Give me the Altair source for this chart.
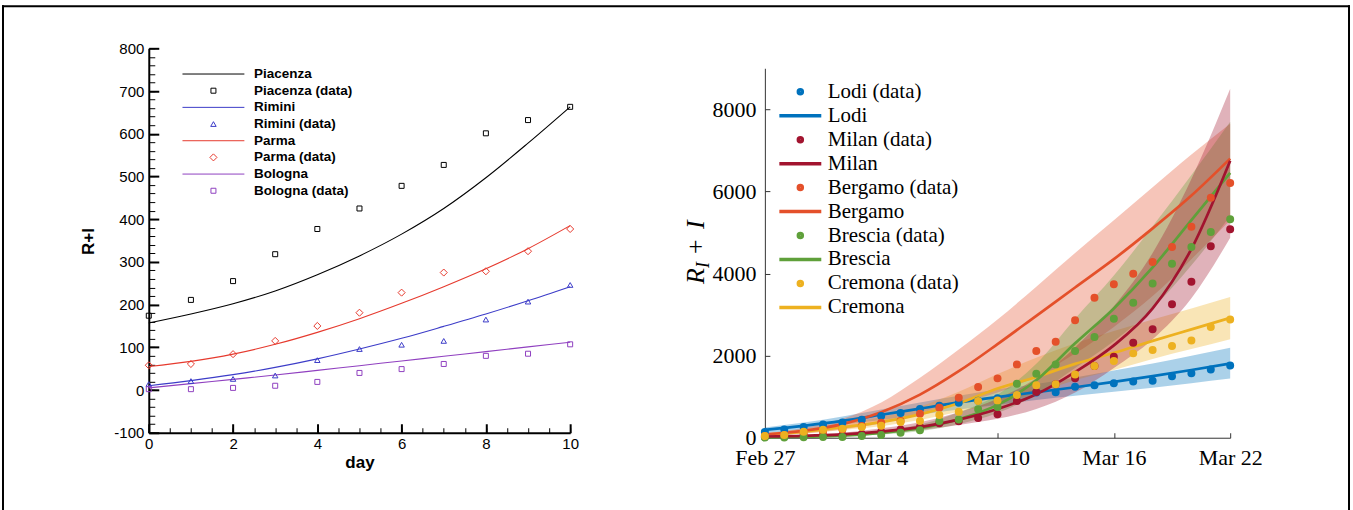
import altair as alt
import pandas as pd

SANS = "Liberation Sans, Arial, Helvetica, sans-serif"
SERIF = "Liberation Serif, Times New Roman, serif"

# ---------------- Left panel data ----------------
days = [0, 1, 2, 3, 4, 5, 6, 7, 8, 9, 10]
piacenza_data = [174, 211, 255, 318, 377, 425, 478, 527, 601, 632, 663]
piacenza_fit = [157, 178, 202, 232, 270, 314, 365, 425, 497, 578, 663]
rimini_data = [14, 21, 26, 34, 70, 96, 106, 115, 165, 207, 246]
rimini_fit = [10, 22, 36, 53, 73, 96, 121, 149, 178, 209, 242]
parma_data = [58, 61, 84, 115, 150, 181, 228, 275, 278, 325, 377]
parma_fit = [55, 67, 84, 107, 135, 167, 203, 242, 284, 331, 385]
bologna_data = [2, 2, 5, 10, 19, 40, 49, 61, 80, 85, 107]
bologna_fit = [5, 15, 25, 35, 46, 57, 68, 79, 90, 101, 112]

left_names = ["Piacenza", "Piacenza (data)", "Rimini", "Rimini (data)",
              "Parma", "Parma (data)", "Bologna", "Bologna (data)"]
left_colors = ["#000000", "#000000", "#3c3cc8", "#3c3cc8",
               "#e63a2e", "#e63a2e", "#9040c0", "#9040c0"]
LINE_L = "M-12.4,0H12.4"
left_shapes = [LINE_L, "square", LINE_L, "triangle-up", LINE_L, "diamond", LINE_L, "square"]
left_sizes = [25, 25, 25, 30, 25, 50, 25, 25]
left_y_ticks = [-100, 0, 100, 200, 300, 400, 500, 600, 700, 800]
left_x_ticks = [0, 2, 4, 6, 8, 10]

# ---------------- Right panel data ----------------
r_days = list(range(25))
date_tick_values = [0, 6, 12, 18, 24]
date_tick_labels = ["Feb 27", "Mar 4", "Mar 10", "Mar 16", "Mar 22"]
r_y_ticks = [0, 2000, 4000, 6000, 8000]

lodi_data = [140, 200, 260, 320, 370, 440, 530, 600, 700, 780, 850, 900, 960,
             1040, 1100, 1110, 1240, 1280, 1330, 1370, 1390, 1500, 1570, 1660, 1760]
milan_data = [15, 30, 45, 55, 60, 90, 145, 200, 270, 350, 400, 480, 570,
              895, 1114, 1300, 1450, 1747, 1975, 2316, 2641, 3249, 3802, 4662, 5076]
bergamo_data = [41, 66, 98, 147, 204, 285, 366, 407, 585, 731, 975, 1235, 1446,
                1787, 2112, 2339, 2859, 3411, 3736, 3996, 4280, 4645, 5141, 5847, 6204]
brescia_data = [5, 5, 10, 15, 20, 41, 66, 122, 180, 407, 447, 691, 748,
                1316, 1559, 1787, 2112, 2453, 2900, 3289, 3760, 4240, 4646, 5011, 5320]
cremona_data = [41, 66, 147, 196, 220, 260, 293, 382, 407, 553, 634, 894, 910,
                1040, 1276, 1300, 1543, 1746, 1868, 2055, 2136, 2233, 2371, 2696, 2883]

fit_days = [0, 2, 4, 6, 8, 10, 12, 14, 16, 18, 20, 22, 24]
lodi_fit = [190, 290, 410, 560, 710, 860, 990, 1110, 1230, 1360, 1500, 1650, 1810]
lodi_lo = [110, 200, 320, 430, 560, 690, 800, 920, 1020, 1120, 1220, 1330, 1440]
lodi_hi = [250, 370, 520, 690, 860, 1020, 1180, 1310, 1470, 1640, 1810, 2000, 2190]
milan_fit = [30, 45, 80, 150, 260, 440, 700, 1060, 1600, 2250, 3150, 4600, 6750]
milan_lo = [20, 30, 55, 100, 180, 310, 460, 700, 1100, 1700, 2400, 3400, 4870]
milan_hi = [45, 65, 120, 230, 380, 620, 950, 1450, 2200, 3200, 4500, 6300, 8500]
bergamo_fit = [80, 170, 330, 620, 1050, 1620, 2280, 2970, 3660, 4350, 5100, 5900, 6800]
bergamo_lo = [50, 105, 200, 350, 600, 850, 1100, 1500, 2050, 2700, 3450, 4350, 5300]
bergamo_hi = [110, 240, 460, 860, 1460, 2150, 2880, 3680, 4500, 5300, 6100, 6900, 7650]
brescia_fit = [10, 25, 50, 120, 230, 450, 800, 1400, 2300, 3150, 4150, 5300, 6450]
brescia_lo = [5, 15, 35, 80, 160, 330, 600, 1050, 1700, 2350, 3150, 4200, 5400]
brescia_hi = [20, 40, 80, 170, 320, 620, 1050, 1800, 2900, 3950, 5150, 6400, 7700]
cremona_fit = [70, 150, 260, 380, 570, 840, 1200, 1480, 1800, 2070, 2360, 2640, 2920]
cremona_lo = [40, 100, 190, 280, 430, 630, 850, 1100, 1400, 1650, 1920, 2160, 2400]
cremona_hi = [100, 210, 340, 500, 760, 1120, 1550, 1950, 2300, 2600, 2880, 3150, 3430]

right_names = ["Lodi (data)", "Lodi", "Milan (data)", "Milan", "Bergamo (data)", "Bergamo",
               "Brescia (data)", "Brescia", "Cremona (data)", "Cremona"]
c_lodi, c_milan, c_berg, c_bres, c_crem = "#0072BD", "#A2142F", "#E4502A", "#5FA03A", "#EDB120"
right_colors = [c_lodi, c_lodi, c_milan, c_milan, c_berg, c_berg, c_bres, c_bres, c_crem, c_crem]
LINE_R = "M-10.5,0H10.5"
right_shapes = ["circle", LINE_R] * 5

# ---------------- Build tables ----------------
left_fit_df = pd.DataFrame(
    [{"lser": n, "day": d, "value": v}
     for n, arr in [("Piacenza", piacenza_fit), ("Rimini", rimini_fit),
                    ("Parma", parma_fit), ("Bologna", bologna_fit)]
     for d, v in zip(days, arr)])
left_data_df = pd.DataFrame(
    [{"lser": n, "day": d, "value": v}
     for n, arr in [("Piacenza (data)", piacenza_data), ("Rimini (data)", rimini_data),
                    ("Parma (data)", parma_data), ("Bologna (data)", bologna_data)]
     for d, v in zip(days, arr)])

right_data_df = pd.DataFrame(
    [{"rser": n, "date": d, "cases": v}
     for n, arr in [("Lodi (data)", lodi_data), ("Milan (data)", milan_data),
                    ("Bergamo (data)", bergamo_data), ("Brescia (data)", brescia_data),
                    ("Cremona (data)", cremona_data)]
     for d, v in zip(r_days, arr)])
right_fit_df = pd.DataFrame(
    [{"rser": n, "band": col, "date": d, "cases": v, "lo": lo, "hi": hi}
     for n, col, arr, los, his in [
         ("Lodi", c_lodi, lodi_fit, lodi_lo, lodi_hi),
         ("Cremona", c_crem, cremona_fit, cremona_lo, cremona_hi),
         ("Bergamo", c_berg, bergamo_fit, bergamo_lo, bergamo_hi),
         ("Brescia", c_bres, brescia_fit, brescia_lo, brescia_hi),
         ("Milan", c_milan, milan_fit, milan_lo, milan_hi)]
     for d, v, lo, hi in zip(fit_days, arr, los, his)])

one = pd.DataFrame({"k": [0]})

# ---------------- Geometry (one shared plot area holding both panels) ----------------
TOTAL_W, TOTAL_H = 1083, 390
LW, LH = 422, 385          # left panel plot box
RX0, RW = 617, 466         # right panel plot box starts at RX0
RH = 390

lx_scale = alt.Scale(domain=[0, 10], nice=False, zero=False, range=[0, LW])
ly_scale = alt.Scale(domain=[-100, 800], nice=False, zero=False, range=[LH, 0])
rx_scale = alt.Scale(domain=[0, 24], nice=False, zero=False, range=[RX0, RX0 + RW])
ry_scale = alt.Scale(domain=[0, 9000], nice=False, zero=False, range=[RH, 20])

# ---------------- Left panel ----------------
left_legend = alt.Legend(orient="none", legendX=58, legendY=19, title=None,
                         labelFont=SANS, labelFontSize=13.5, labelFontWeight="bold",
                         labelColor="black", labelOffset=34, symbolStrokeWidth=1,
                         symbolOpacity=1, rowPadding=1.7, padding=0, symbolOffset=0,
                         labelLimit=300)
l_color_scale = alt.Scale(domain=left_names, range=left_colors)

l_lines = alt.Chart(left_fit_df).mark_line(strokeWidth=1.1, interpolate="monotone").encode(
    x=alt.X("day:Q", scale=lx_scale, axis=alt.Axis(
        orient="bottom", offset=LH - TOTAL_H, values=left_x_ticks, ticks=False, grid=False,
        domainColor="black", domainWidth=2, labelFont=SANS, labelFontSize=15, labelColor="black",
        labelPadding=4, labelFlush=False, title="day", titleFont=SANS, titleFontSize=17,
        titleFontWeight="bold", titleColor="black", titlePadding=3)),
    y=alt.Y("value:Q", scale=ly_scale, axis=alt.Axis(
        orient="left", values=left_y_ticks, labelExpr="datum.value + ''", ticks=False, grid=False,
        domainColor="black", domainWidth=2, labelFont=SANS, labelFontSize=15, labelColor="black",
        labelPadding=5, labelFlush=False, title="R+I", titleFont=SANS, titleFontSize=17,
        titleFontWeight="bold", titleColor="black", titleX=-51, titleY=193)),
    color=alt.Color("lser:N", scale=l_color_scale, legend=None),
)
l_points = alt.Chart(left_data_df).mark_point(filled=False, strokeWidth=1, opacity=1).encode(
    x=alt.X("day:Q", scale=lx_scale, axis=alt.Axis(
        orient="top", offset=-LH, values=left_x_ticks, tickSize=9, tickWidth=2, tickColor="black",
        labels=False, domain=False, grid=False, title=None)),
    y=alt.Y("value:Q", scale=ly_scale, axis=alt.Axis(
        orient="right", offset=-TOTAL_W, values=left_y_ticks, tickSize=10, tickWidth=2,
        tickColor="black", labels=False, domain=False, grid=False, title=None)),
    color=alt.Color("lser:N", scale=l_color_scale, legend=left_legend),
    shape=alt.Shape("lser:N", scale=alt.Scale(domain=left_names, range=left_shapes), legend=left_legend),
    size=alt.Size("lser:N", scale=alt.Scale(type="ordinal", domain=left_names, range=left_sizes),
                  legend=left_legend),
)
l_minor = alt.Chart(left_data_df).mark_point(opacity=0).encode(
    x=alt.X("day:Q", scale=lx_scale, axis=alt.Axis(
        orient="top", offset=-LH, values=[i / 2 for i in range(21)], tickSize=5, tickWidth=1,
        tickColor="black", labels=False, domain=False, grid=False, title=None)),
    y=alt.Y("value:Q", scale=ly_scale, axis=alt.Axis(
        orient="right", offset=-TOTAL_W, values=list(range(-100, 801, 20)), tickSize=6,
        tickWidth=1, tickColor="black", labels=False, domain=False, grid=False, title=None)),
)

# ---------------- Right panel ----------------
right_legend = alt.Legend(orient="none", legendX=RX0 + 25, legendY=33, title=None,
                          labelFont=SERIF, labelFontSize=21, labelColor="black",
                          labelOffset=17, symbolStrokeWidth=3.5, symbolSize=16,
                          symbolOpacity=1, rowPadding=2, padding=0, symbolOffset=0,
                          labelLimit=300)
r_color_scale = alt.Scale(domain=right_names, range=right_colors)
label_expr = "[" + ",".join("'%s'" % s for s in date_tick_labels) + "][indexof([" + \
    ",".join(str(v) for v in date_tick_values) + "], datum.value)]"

r_bands = alt.Chart(right_fit_df).mark_area(opacity=0.33, interpolate="monotone").encode(
    x=alt.X("date:Q", scale=rx_scale, axis=None),
    y=alt.Y("lo:Q", scale=ry_scale, axis=None),
    y2="hi:Q",
    color=alt.Color("band:N", scale=None, legend=None),
    detail="rser:N",
)
r_lines = alt.Chart(right_fit_df).mark_line(strokeWidth=2.7, interpolate="monotone", opacity=1).encode(
    x=alt.X("date:Q", scale=rx_scale, axis=alt.Axis(
        orient="bottom", values=date_tick_values, labelExpr=label_expr, ticks=False, grid=False,
        domainColor="#333333", domainWidth=1, labelFont=SERIF, labelFontSize=22,
        labelColor="black", labelPadding=10, labelFlush=False, title=None)),
    y=alt.Y("cases:Q", scale=ry_scale, axis=alt.Axis(
        orient="left", offset=-RX0, values=r_y_ticks, format="d", ticks=False, grid=False,
        domainColor="#333333", domainWidth=1, labelFont=SERIF, labelFontSize=22,
        labelColor="black", labelPadding=9, labelFlush=False, title=None)),
    color=alt.Color("rser:N", scale=r_color_scale, legend=None),
)
r_points = alt.Chart(right_data_df).mark_point(filled=False, size=16, strokeWidth=4, opacity=1).encode(
    x=alt.X("date:Q", scale=rx_scale, axis=alt.Axis(
        orient="top", offset=-RH, values=date_tick_values, tickSize=5, tickWidth=1,
        tickColor="#333333", labels=False, domain=False, grid=False, title=None)),
    y=alt.Y("cases:Q", scale=ry_scale, axis=alt.Axis(
        orient="right", offset=-RW, values=r_y_ticks, tickSize=5, tickWidth=1,
        tickColor="#333333", labels=False, domain=False, grid=False, title=None)),
    color=alt.Color("rser:N", scale=r_color_scale, legend=right_legend),
    shape=alt.Shape("rser:N", scale=alt.Scale(domain=right_names, range=right_shapes),
                    legend=right_legend),
)

def title_piece(txt, size, dx, dy, italic=True):
    return alt.Chart(one).mark_text(
        text=txt, font=SERIF, fontSize=size, fontStyle="italic" if italic else "normal",
        angle=270, align="left", baseline="alphabetic", color="black", dx=dx, dy=dy
    ).encode(x=alt.value(RX0 - 61), y=alt.value(236))

t1 = title_piece("R", 26, 0, 0)
t2 = title_piece("I", 18, 16, 5)
t3 = title_piece("+", 26, 30, 0, italic=False)
t4 = title_piece("I", 26, 55, 0)

# ---------------- Page frame ----------------
frame_rule = dict(color="black", strokeWidth=2, strokeCap="square")
frame_left = alt.Chart(one).mark_rule(**frame_rule).encode(
    x=alt.value(-146), y=alt.value(-42), y2=alt.value(463))
frame_top = alt.Chart(one).mark_rule(**frame_rule).encode(
    x=alt.value(-146), x2=alt.value(1202), y=alt.value(-42))
frame_right = alt.Chart(one).mark_rule(**frame_rule).encode(
    x=alt.value(1202), y=alt.value(-42), y2=alt.value(463))

chart = alt.layer(
    frame_left, frame_top, frame_right,
    l_lines, l_points, l_minor,
    r_bands, r_lines, r_points, t1, t2, t3, t4,
).resolve_scale(
    x="independent", y="independent", color="independent", shape="independent", size="independent"
).resolve_axis(
    x="independent", y="independent"
).properties(
    width=TOTAL_W, height=TOTAL_H,
    padding={"left": 1, "top": 4, "right": 2, "bottom": 0}
).configure_view(stroke=None)

chart.save("out.html", embed_options={"renderer": "svg", "actions": False})
